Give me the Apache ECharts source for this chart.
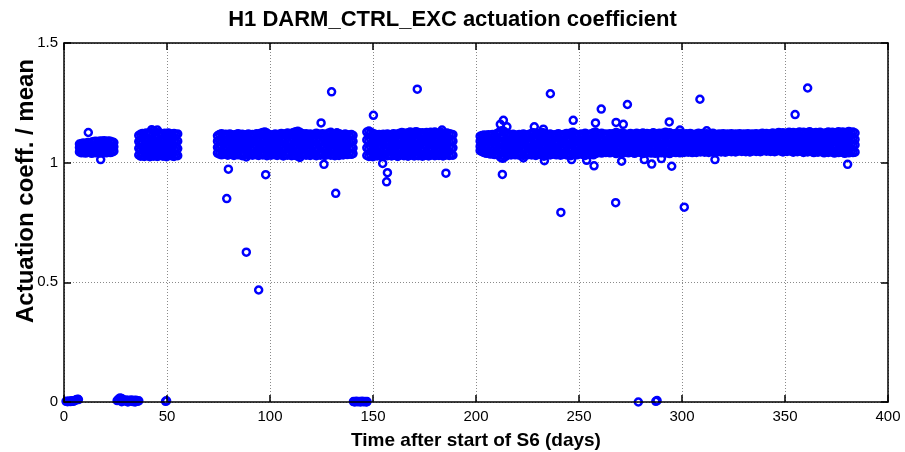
<!DOCTYPE html>
<html>
<head>
<meta charset="utf-8">
<title>H1 DARM_CTRL_EXC actuation coefficient</title>
<script src="https://cdn.jsdelivr.net/npm/echarts@6/dist/echarts.min.js"></script>
<style>
  html, body { margin: 0; padding: 0; background: #fff; }
  #chart { width: 905px; height: 452px; }
</style>
</head>
<body>
<div id="chart"></div>
<script>
// Axis ranges: [min, max, step]
const xRange = [0, 400, 50];
const yRange = [0, 1.5, 0.5];

// Normal running: each row is [day, coefficient samples...]
const runA = [
  [7.5,1.045,1.063,1.078],[8.5,1.041,1.066,1.080],[9.5,1.043,1.062,1.082],[10.5,1.040,1.067,1.079],
  [11.5,1.046,1.064,1.084],[12.5,1.042,1.068,1.081],[13.5,1.039,1.063,1.086],[14.5,1.044,1.066,1.088],
  [15.5,1.041,1.069,1.090],[16.5,1.045,1.065,1.087],[17.5,1.040,1.067,1.091],[18.5,1.043,1.064,1.089],
  [19.5,1.046,1.068,1.092],[20.5,1.041,1.066,1.088],[21.5,1.044,1.069,1.091],[22.5,1.042,1.065,1.089],
  [23.5,1.045,1.067,1.086],[24.2,1.048,1.066,1.084]
];

const runB = [
  [36.3,1.032,1.060,1.088,1.114],[37.2,1.027,1.057,1.091,1.119],[38.1,1.030,1.062,1.086,1.122],
  [39.0,1.026,1.058,1.093,1.117],[39.9,1.031,1.061,1.089,1.124],[40.8,1.028,1.056,1.092,1.120],
  [41.7,1.025,1.063,1.087,1.126],[42.6,1.030,1.059,1.090,1.138],[43.5,1.027,1.055,1.094,1.133],
  [44.4,1.032,1.060,1.088,1.128],[45.3,1.026,1.058,1.091,1.136],[46.2,1.029,1.062,1.086,1.125],
  [47.1,1.031,1.057,1.093,1.122],[48.0,1.027,1.061,1.089,1.120],[48.9,1.030,1.056,1.092,1.123],
  [49.8,1.025,1.059,1.087,1.119],[50.7,1.029,1.063,1.090,1.124],[51.6,1.032,1.058,1.088,1.121],
  [52.5,1.028,1.060,1.091,1.118],[53.4,1.026,1.057,1.089,1.122],[54.3,1.031,1.061,1.086,1.117],
  [55.2,1.029,1.059,1.090,1.120]
];

const runC = [
  [74.5,1.040,1.064,1.090,1.112],[75.5,1.036,1.062,1.093,1.118],[76.5,1.033,1.066,1.088,1.121],
  [77.5,1.038,1.060,1.092,1.115],[78.5,1.035,1.065,1.089,1.119],[79.5,1.031,1.061,1.094,1.116],
  [80.5,1.036,1.067,1.090,1.120],[81.5,1.034,1.063,1.087,1.117],[82.5,1.030,1.059,1.091,1.114],
  [83.5,1.037,1.064,1.095,1.118],[84.5,1.033,1.061,1.089,1.121],[85.5,1.035,1.066,1.092,1.116],
  [86.5,1.029,1.062,1.088,1.119],[87.5,1.034,1.058,1.093,1.115],[88.5,1.024,1.063,1.090,1.117],
  [89.5,1.032,1.065,1.087,1.120],[90.5,1.036,1.060,1.091,1.113],[91.5,1.031,1.064,1.094,1.118],
  [92.5,1.035,1.061,1.089,1.116],[93.5,1.033,1.067,1.092,1.121],[94.5,1.030,1.062,1.088,1.119],
  [95.5,1.036,1.059,1.093,1.123],[96.5,1.032,1.065,1.090,1.126],[97.5,1.035,1.061,1.095,1.128],
  [98.5,1.029,1.064,1.091,1.124],[99.5,1.034,1.060,1.087,1.118],[100.5,1.031,1.066,1.092,1.115],
  [101.5,1.037,1.062,1.089,1.117],[102.5,1.033,1.058,1.094,1.120],[103.5,1.030,1.063,1.090,1.116],
  [104.5,1.035,1.067,1.088,1.119],[105.5,1.032,1.061,1.093,1.122],[106.5,1.028,1.064,1.091,1.118],
  [107.5,1.034,1.060,1.095,1.121],[108.5,1.031,1.065,1.089,1.124],[109.5,1.036,1.062,1.092,1.120],
  [110.5,1.029,1.059,1.090,1.123],[111.5,1.033,1.066,1.094,1.126],[112.5,1.030,1.061,1.088,1.129],
  [113.5,1.027,1.063,1.093,1.131],[114.5,1.022,1.060,1.091,1.127],[115.5,1.032,1.065,1.089,1.122],
  [116.5,1.035,1.062,1.094,1.118],[117.5,1.031,1.058,1.090,1.121],[118.5,1.034,1.064,1.092,1.117],
  [119.5,1.030,1.061,1.088,1.120],[120.5,1.036,1.066,1.093,1.116],[121.5,1.032,1.060,1.090,1.119],
  [122.5,1.029,1.063,1.095,1.123],[123.5,1.034,1.059,1.089,1.120],[124.5,1.031,1.065,1.092,1.118],
  [125.5,1.035,1.062,1.088,1.121],[126.5,1.030,1.064,1.094,1.117],[127.5,1.033,1.060,1.091,1.120],
  [128.5,1.036,1.066,1.089,1.124],[129.5,1.031,1.061,1.093,1.127],[130.5,1.034,1.063,1.090,1.122],
  [131.5,1.029,1.059,1.088,1.119],[132.5,1.033,1.065,1.092,1.125],[133.5,1.030,1.062,1.094,1.121],
  [134.5,1.035,1.060,1.089,1.118],[135.5,1.032,1.064,1.091,1.116],[136.5,1.038,1.061,1.093,1.120],
  [137.5,1.034,1.066,1.090,1.117],[138.5,1.037,1.062,1.088,1.115],[139.5,1.035,1.064,1.092,1.118],
  [140.3,1.038,1.061,1.089,1.114]
];

const runD = [
  [147.0,1.030,1.062,1.095,1.128],[148.0,1.026,1.058,1.091,1.132],[149.0,1.029,1.064,1.097,1.127],
  [150.0,1.025,1.060,1.093,1.122],[151.0,1.031,1.057,1.089,1.119],[152.0,1.028,1.063,1.094,1.116],
  [153.0,1.033,1.059,1.090,1.118],[154.0,1.027,1.061,1.087,1.115],[155.0,1.030,1.056,1.092,1.119],
  [156.0,1.034,1.062,1.088,1.117],[157.0,1.029,1.058,1.091,1.120],[158.0,1.032,1.064,1.089,1.116],
  [159.0,1.028,1.060,1.093,1.118],[160.0,1.033,1.057,1.090,1.121],[161.0,1.030,1.063,1.087,1.117],
  [162.0,1.026,1.059,1.092,1.120],[163.0,1.031,1.061,1.089,1.123],[164.0,1.034,1.058,1.094,1.126],
  [165.0,1.029,1.064,1.090,1.124],[166.0,1.032,1.060,1.088,1.121],[167.0,1.027,1.062,1.093,1.125],
  [168.0,1.031,1.057,1.091,1.128],[169.0,1.033,1.063,1.089,1.124],[170.0,1.028,1.059,1.094,1.127],
  [171.0,1.032,1.061,1.090,1.129],[172.0,1.029,1.064,1.092,1.126],[173.0,1.034,1.058,1.088,1.123],
  [174.0,1.027,1.062,1.093,1.125],[175.0,1.030,1.060,1.091,1.122],[176.0,1.033,1.063,1.089,1.126],
  [177.0,1.028,1.059,1.094,1.124],[178.0,1.031,1.061,1.090,1.127],[179.0,1.034,1.057,1.088,1.125],
  [180.0,1.029,1.064,1.092,1.128],[181.0,1.032,1.060,1.090,1.124],[182.0,1.030,1.062,1.093,1.121],
  [183.0,1.033,1.058,1.089,1.126],[184.0,1.028,1.063,1.091,1.123],[185.0,1.031,1.061,1.094,1.120],
  [186.0,1.034,1.059,1.090,1.124],[187.0,1.030,1.064,1.088,1.121],[188.0,1.033,1.060,1.092,1.119],
  [188.8,1.031,1.062,1.090,1.117]
];

const runE = [
  [202,1.050,1.068,1.090,1.110],[203,1.046,1.064,1.093,1.114],[204,1.042,1.067,1.089,1.116],
  [205,1.039,1.062,1.092,1.113],[206,1.041,1.065,1.088,1.117],[207,1.036,1.060,1.091,1.115],
  [208,1.038,1.063,1.087,1.118],[209,1.034,1.059,1.090,1.114],[210,1.037,1.064,1.093,1.121],
  [211,1.031,1.061,1.089,1.126],[212,1.022,1.058,1.092,1.130],[213,1.018,1.055,1.088,1.134],
  [214,1.024,1.060,1.094,1.128],[215,1.030,1.063,1.090,1.122],[216,1.035,1.059,1.087,1.117],
  [217,1.032,1.064,1.091,1.115],[218,1.036,1.061,1.088,1.119],[219,1.033,1.057,1.092,1.116],
  [220,1.038,1.062,1.089,1.113],[221,1.031,1.066,1.093,1.118],[222,1.034,1.060,1.086,1.115],
  [223,1.030,1.063,1.090,1.120],[224,1.036,1.058,1.094,1.117],[225,1.033,1.065,1.088,1.114],
  [226,1.037,1.061,1.091,1.119],[227,1.032,1.059,1.087,1.122],[228,1.035,1.064,1.092,1.125],
  [229,1.030,1.060,1.089,1.121],[230,1.034,1.062,1.093,1.118],[231,1.038,1.057,1.090,1.123],
  [232,1.031,1.063,1.086,1.126],[233,1.027,1.060,1.091,1.124],[234,1.033,1.065,1.088,1.119],
  [235,1.036,1.061,1.092,1.116],[236,1.032,1.058,1.089,1.120],[237,1.035,1.064,1.093,1.117],
  [238,1.039,1.060,1.087,1.114],[239,1.033,1.062,1.091,1.118],[240,1.036,1.066,1.088,1.121],
  [241,1.031,1.059,1.094,1.117],[242,1.034,1.063,1.090,1.115],[243,1.038,1.061,1.086,1.119],
  [244,1.032,1.065,1.092,1.122],[245,1.035,1.060,1.089,1.118],[246,1.029,1.062,1.093,1.124],
  [247,1.034,1.058,1.090,1.127],[248,1.037,1.064,1.087,1.121],[249,1.033,1.061,1.091,1.118],
  [250,1.036,1.066,1.094,1.116],[251,1.040,1.062,1.088,1.120],[252,1.034,1.059,1.092,1.117],
  [253,1.030,1.064,1.089,1.123],[254,1.037,1.061,1.093,1.119],[255,1.035,1.067,1.090,1.116],
  [256,1.039,1.063,1.087,1.121],[257,1.033,1.060,1.091,1.125],[258,1.038,1.065,1.094,1.128],
  [259,1.041,1.062,1.089,1.122],[260,1.044,1.068,1.093,1.119],[261,1.040,1.065,1.090,1.123],
  [262,1.046,1.070,1.095,1.117],[263,1.042,1.066,1.091,1.120],[264,1.045,1.071,1.094,1.116],
  [265,1.041,1.067,1.089,1.121],[266,1.047,1.064,1.092,1.118],[267,1.043,1.069,1.096,1.122],
  [268,1.038,1.065,1.090,1.126],[269,1.044,1.070,1.093,1.123],[270,1.040,1.066,1.097,1.120],
  [271,1.046,1.072,1.091,1.124],[272,1.042,1.068,1.094,1.121],[273,1.045,1.064,1.090,1.117],
  [274,1.041,1.069,1.095,1.119],[275,1.047,1.066,1.092,1.122],[276,1.043,1.071,1.089,1.118],
  [277,1.039,1.067,1.093,1.120],[278,1.044,1.063,1.096,1.123],[279,1.046,1.070,1.091,1.117],
  [280,1.042,1.068,1.094,1.121],[281,1.038,1.065,1.090,1.124],[282,1.045,1.071,1.093,1.119],
  [283,1.041,1.066,1.097,1.122],[284,1.047,1.069,1.092,1.118],[285,1.040,1.064,1.095,1.121],
  [286,1.044,1.070,1.091,1.125],[287,1.039,1.067,1.094,1.122],[288,1.043,1.072,1.090,1.119],
  [289,1.046,1.068,1.093,1.123],[290,1.041,1.065,1.096,1.120],[291,1.045,1.071,1.092,1.124],
  [292,1.040,1.066,1.089,1.127],[293,1.044,1.069,1.095,1.122],[294,1.038,1.064,1.091,1.125],
  [295,1.043,1.070,1.094,1.121],[296,1.047,1.067,1.090,1.118],[297,1.042,1.072,1.093,1.122],
  [298,1.045,1.068,1.096,1.119],[299,1.041,1.065,1.092,1.123],[300,1.046,1.071,1.095,1.120],
  [301,1.043,1.067,1.091,1.117],[302,1.048,1.073,1.094,1.121],[303,1.044,1.069,1.097,1.118],
  [304,1.047,1.066,1.093,1.122],[305,1.042,1.071,1.096,1.119],[306,1.046,1.068,1.092,1.116],
  [307,1.043,1.072,1.095,1.120],[308,1.049,1.069,1.098,1.123],[309,1.045,1.066,1.094,1.119],
  [310,1.048,1.071,1.097,1.122],[311,1.044,1.074,1.093,1.118],[312,1.047,1.070,1.096,1.121],
  [313,1.043,1.067,1.092,1.117],[314,1.048,1.072,1.095,1.120],[315,1.045,1.069,1.098,1.123],
  [316,1.041,1.073,1.094,1.119],[317,1.046,1.070,1.097,1.116],[318,1.049,1.067,1.093,1.120],
  [319,1.045,1.072,1.096,1.118],[320,1.048,1.069,1.099,1.121],[321,1.044,1.074,1.095,1.117],
  [322,1.047,1.071,1.092,1.120],[323,1.050,1.068,1.096,1.118],[324,1.046,1.073,1.099,1.121],
  [325,1.049,1.070,1.095,1.117],[326,1.045,1.067,1.098,1.120],[327,1.048,1.072,1.094,1.118],
  [328,1.051,1.069,1.097,1.121],[329,1.047,1.074,1.093,1.117],[330,1.050,1.071,1.096,1.120],
  [331,1.046,1.068,1.099,1.118],[332,1.049,1.073,1.095,1.121],[333,1.045,1.070,1.098,1.117],
  [334,1.048,1.075,1.094,1.120],[335,1.051,1.072,1.097,1.118],[336,1.047,1.069,1.100,1.121],
  [337,1.050,1.074,1.096,1.117],[338,1.046,1.071,1.099,1.120],[339,1.049,1.068,1.095,1.123],
  [340,1.052,1.073,1.098,1.119],[341,1.048,1.070,1.094,1.122],[342,1.051,1.075,1.097,1.118],
  [343,1.047,1.072,1.100,1.121],[344,1.050,1.069,1.096,1.124],[345,1.046,1.074,1.099,1.120],
  [346,1.049,1.071,1.095,1.123],[347,1.052,1.076,1.098,1.126],[348,1.048,1.073,1.101,1.122],
  [349,1.045,1.070,1.097,1.125],[350,1.050,1.075,1.100,1.121],[351,1.047,1.072,1.096,1.124],
  [352,1.051,1.069,1.099,1.127],[353,1.048,1.074,1.103,1.123],[354,1.044,1.071,1.098,1.126],
  [355,1.049,1.076,1.101,1.122],[356,1.046,1.073,1.097,1.125],[357,1.050,1.070,1.100,1.128],
  [358,1.047,1.075,1.096,1.124],[359,1.043,1.072,1.099,1.127],[360,1.048,1.077,1.102,1.123],
  [361,1.045,1.074,1.098,1.126],[362,1.049,1.071,1.101,1.129],[363,1.046,1.076,1.097,1.125],
  [364,1.042,1.073,1.100,1.122],[365,1.047,1.070,1.104,1.126],[366,1.044,1.075,1.099,1.123],
  [367,1.048,1.072,1.102,1.127],[368,1.045,1.077,1.098,1.124],[369,1.041,1.074,1.101,1.121],
  [370,1.046,1.071,1.097,1.125],[371,1.043,1.076,1.100,1.128],[372,1.047,1.073,1.103,1.124],
  [373,1.044,1.070,1.099,1.127],[374,1.040,1.075,1.102,1.123],[375,1.045,1.072,1.098,1.126],
  [376,1.042,1.077,1.101,1.129],[377,1.046,1.074,1.097,1.125],[378,1.043,1.071,1.100,1.128],
  [379,1.039,1.076,1.104,1.124],[380,1.044,1.073,1.099,1.127],[381,1.041,1.070,1.102,1.130],
  [382,1.045,1.075,1.098,1.126],[383,1.042,1.072,1.101,1.128],[384,1.044,1.074,1.097,1.124]
];

// Isolated measurements away from the main band: [day, coefficient]
const strays = [
  [11.8,1.126],[17.8,1.013],[79.0,0.850],[79.8,0.973],[88.5,0.626],[94.5,0.468],[97.9,0.950],
  [124.8,1.166],[126.2,0.993],[129.9,1.296],[131.9,0.872],[150.2,1.198],[154.7,0.997],
  [157.0,0.958],[156.6,0.920],[171.5,1.307],[183.5,1.136],[185.4,0.956],[212.8,0.951],
  [213.3,1.177],[211.8,1.160],[215.0,1.150],[223.0,1.020],[228.3,1.150],[232.7,1.140],
  [233.2,1.008],[236.1,1.288],[241.2,0.792],[246.4,1.013],[247.2,1.177],[253.7,1.010],
  [257.3,0.987],[258.0,1.166],[260.8,1.224],[267.8,0.833],[268.0,1.168],[270.7,1.006],
  [271.5,1.160],[273.5,1.243],[281.7,1.013],[285.3,0.994],[290.0,1.017],[293.8,1.170],
  [295.0,0.985],[299.0,1.136],[301.1,0.814],[308.7,1.265],[312.0,1.133],[316.0,1.013],
  [354.9,1.201],[361.0,1.312],[380.4,0.993]
];

// Segments where the excitation was off and the fit returned ~0
const dropsA = [
  [1.0,0.003],[1.7,0.001],[2.4,0.004],[3.1,0.002],[3.8,0.005],[4.5,0.003],[5.2,0.006],
  [5.9,0.009],[6.6,0.012],[7.0,0.010]
];
const dropsB = [
  [25.8,0.006],[26.5,0.012],[27.2,0.017],[27.9,0.015],[28.0,0.001],[28.6,0.010],[29.3,0.005],
  [30.0,0.008],[30.7,0.003],[31.0,0.000],[31.4,0.007],[32.1,0.004],[32.8,0.008],[33.5,0.002],
  [34.2,0.006],[34.5,0.000],[34.9,0.007],[35.6,0.003],[36.3,0.005]
];
const dropsC = [
  [140.5,0.002],[141.2,0.000],[141.9,0.003],[142.6,0.001],[143.3,0.002],[144.0,0.000],
  [144.7,0.003],[145.4,0.001],[146.1,0.002],[146.8,0.000],[147.1,0.002]
];
const dropsOther = [
  [49.3,0.003],[49.8,0.005],[278.8,0.000],[287.3,0.003],[287.9,0.006]
];

const bandPoints = [];
[runA, runB, runC, runD, runE].forEach(run => {
  run.forEach(row => {
    const day = row[0];
    for (let i = 1; i < row.length; i++) bandPoints.push([day, row[i]]);
  });
});
const dropPoints = [].concat(dropsA, dropsB, dropsC, dropsOther);

const FONT = '"Liberation Sans", Arial, Helvetica, sans-serif';
const black = '#000';

const marker = {
  type: 'scatter',
  symbol: 'circle',
  symbolSize: 7,
  xAxisIndex: 0,
  yAxisIndex: 0,
  clip: false,
  large: false,
  silent: true,
  animation: false,
  itemStyle: { color: 'rgba(0,0,0,0)', borderColor: '#0000ff', borderWidth: 2.5, opacity: 1 }
};

const frameLine = { show: true, onZero: false, lineStyle: { color: black, width: 1.5 } };
const frameTick = { show: true, inside: true, length: 7, lineStyle: { color: black, width: 1.5 } };
const dotted = { show: true, lineStyle: { color: '#8a8a8a', width: 1, type: [1, 2] } };
const off = { show: false };

const chart = echarts.init(document.getElementById('chart'), null, { renderer: 'canvas' });
chart.setOption({
  animation: false,
  backgroundColor: '#fff',
  title: {
    text: 'H1 DARM_CTRL_EXC actuation coefficient',
    left: 'center',
    top: 4,
    textStyle: { fontFamily: FONT, fontSize: 22, fontWeight: 'bold', color: black }
  },
  grid: { left: 64, right: 17, top: 43, bottom: 50, containLabel: false, outerBoundsMode: 'none' },
  graphic: [
    {
      type: 'text',
      x: 26,
      y: 191,
      rotation: Math.PI / 2,
      silent: true,
      style: {
        text: 'Actuation coeff. / mean',
        font: 'bold 24px ' + FONT,
        fill: black,
        textAlign: 'center',
        textVerticalAlign: 'middle'
      }
    }
  ],
  xAxis: [
    {
      type: 'value', position: 'bottom', min: xRange[0], max: xRange[1], interval: xRange[2], z: 3,
      name: 'Time after start of S6 (days)', nameLocation: 'middle', nameGap: 29,
      nameTextStyle: { fontFamily: FONT, fontSize: 19, fontWeight: 'bold', color: black },
      axisLine: frameLine, axisTick: frameTick, splitLine: off,
      axisLabel: { margin: 7, fontFamily: FONT, fontSize: 15, color: black }
    },
    {
      type: 'value', position: 'top', min: xRange[0], max: xRange[1], interval: xRange[2], z: 3,
      axisLine: frameLine, axisTick: frameTick, splitLine: off, axisLabel: off
    },
    {
      type: 'value', position: 'bottom', min: xRange[0], max: xRange[1], interval: xRange[2], z: 0,
      axisLine: off, axisTick: off, axisLabel: off, splitLine: dotted
    }
  ],
  yAxis: [
    {
      type: 'value', position: 'left', min: yRange[0], max: yRange[1], interval: yRange[2], z: 3,
      axisLine: frameLine, axisTick: frameTick, splitLine: off,
      axisLabel: { margin: 6, fontFamily: FONT, fontSize: 15, color: black }
    },
    {
      type: 'value', position: 'right', min: yRange[0], max: yRange[1], interval: yRange[2], z: 3,
      axisLine: frameLine, axisTick: frameTick, splitLine: off, axisLabel: off
    },
    {
      type: 'value', position: 'left', min: yRange[0], max: yRange[1], interval: yRange[2], z: 0,
      axisLine: off, axisTick: off, axisLabel: off, splitLine: dotted
    }
  ],
  series: [
    Object.assign({ name: 'band', data: bandPoints }, marker),
    Object.assign({ name: 'strays', data: strays }, marker),
    Object.assign({ name: 'drops', data: dropPoints }, marker)
  ]
});
</script>
</body>
</html>
